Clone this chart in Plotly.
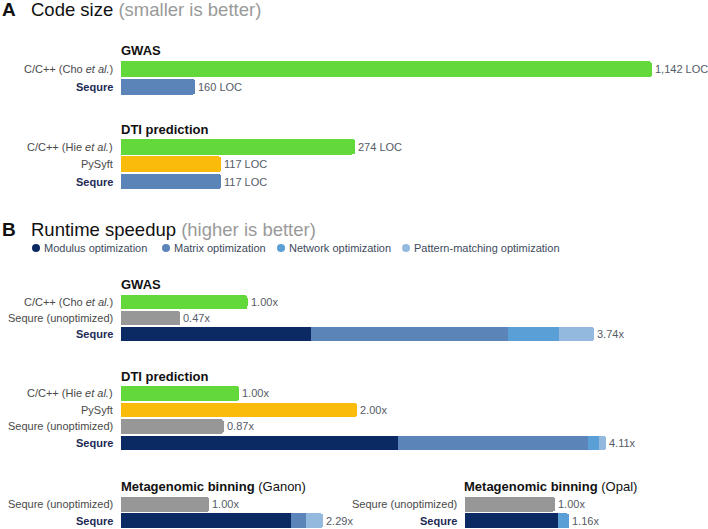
import plotly.graph_objects as go

# ---------------- data ----------------
code_gwas_labels = ["C/C++ (Cho et al.)", "Sequre"]
code_gwas_loc = [1142, 160]
code_dti_labels = ["C/C++ (Hie et al.)", "PySyft", "Sequre"]
code_dti_loc = [274, 117, 117]

opt_names = ["Modulus optimization", "Matrix optimization",
             "Network optimization", "Pattern-matching optimization"]

speed_gwas_labels = ["C/C++ (Cho et al.)", "Sequre (unoptimized)"]
speed_gwas = [1.00, 0.47]
speed_gwas_sequre = [1.50, 1.56, 0.40, 0.28]     # -> 3.74x

speed_dti_labels = ["C/C++ (Hie et al.)", "PySyft", "Sequre (unoptimized)"]
speed_dti = [1.00, 2.00, 0.87]
speed_dti_sequre = [2.35, 1.61, 0.09, 0.06]      # -> 4.11x

ganon_labels = ["Sequre (unoptimized)"]
ganon = [1.00]
ganon_sequre = [1.92, 0.18, 0.00, 0.19]          # -> 2.29x

opal_labels = ["Sequre (unoptimized)"]
opal = [1.00]
opal_sequre = [1.03, 0.00, 0.13, 0.00]           # -> 1.16x

# ---------------- styles ----------------
W, H = 708, 529
FONT = "Liberation Sans"
GREEN, GRAY, YELLOW = "#62d83b", "#979797", "#fbbb0a"
SEQ_BLUE = "#5b84b8"
OPT_COLORS = ["#0b2a63", "#5b84b8", "#5a9fd6", "#94b9de"]
LABEL_C, VALUE_C, NAVY = "#4a4a4a", "#555b66", "#1c2a55"

def pxx(p):
    return p / W

def pxy(p):
    return 1 - p / H

fig = go.Figure()
annotations = []
shapes = []
layout_axes = {}


def disp(lbl):
    if lbl == "Sequre":
        return f"<b><span style='color:{NAVY}'>Sequre</span></b>"
    return lbl.replace("et al.", "<i>et al.</i>")


def add_group(idx, x0, ytop, pitch, scale, cats, values, colors, fmt,
              sequre=None, label_x=None):
    xa, ya = f"x{idx}", f"y{idx}"
    all_cats = list(cats) + (["Sequre"] if sequre is not None else [])
    n = len(all_cats)
    layout_axes[f"xaxis{idx}"] = dict(domain=[pxx(x0), 1], range=[0, (W - x0) / scale],
                                      visible=False, fixedrange=True, anchor=ya)
    layout_axes[f"yaxis{idx}"] = dict(domain=[pxy(ytop + n * pitch), pxy(ytop)],
                                      type="category", categoryorder="array",
                                      categoryarray=all_cats, range=[n - 0.5, -0.5],
                                      visible=False, fixedrange=True, anchor=xa)
    fig.add_trace(go.Bar(x=values, y=list(cats), orientation="h", xaxis=xa, yaxis=ya,
                         marker=dict(color=colors, line=dict(width=0)),
                         hoverinfo="skip", showlegend=False))
    for c, v in zip(cats, values):
        annotations.append(dict(x=v, y=c, xref=xa, yref=ya, text=fmt(v), showarrow=False,
                                xanchor="left", xshift=1, font=dict(size=11, color=VALUE_C)))
    if sequre is not None:
        if isinstance(sequre, list):
            for seg, col in zip(sequre, OPT_COLORS):
                if seg > 0:
                    fig.add_trace(go.Bar(x=[seg], y=["Sequre"], orientation="h",
                                         xaxis=xa, yaxis=ya,
                                         marker=dict(color=col, line=dict(width=0)),
                                         hoverinfo="skip", showlegend=False))
            total = sum(sequre)
        else:
            fig.add_trace(go.Bar(x=[sequre], y=["Sequre"], orientation="h",
                                 xaxis=xa, yaxis=ya,
                                 marker=dict(color=SEQ_BLUE, line=dict(width=0)),
                                 hoverinfo="skip", showlegend=False))
            total = sequre
        annotations.append(dict(x=total, y="Sequre", xref=xa, yref=ya, text=fmt(total),
                                showarrow=False, xanchor="left", xshift=1,
                                font=dict(size=11, color=VALUE_C)))
    lx = (x0 - 6) if label_x is None else label_x
    for c in all_cats:
        annotations.append(dict(x=pxx(lx), y=c, xref="paper", yref=ya, text=disp(c),
                                showarrow=False, xanchor="right",
                                font=dict(size=11, color=LABEL_C)))


loc_fmt = lambda v: f"{v:,} LOC"
x_fmt = lambda v: f"{v:.2f}x"

# Panel A
add_group(1, 121, 60.5, 17.5, 0.465, code_gwas_labels[:1], code_gwas_loc[:1], [GREEN],
          loc_fmt, sequre=code_gwas_loc[1])
add_group(2, 121, 138.0, 17.4, 0.855, code_dti_labels[:2], code_dti_loc[:2], [GREEN, YELLOW],
          loc_fmt, sequre=code_dti_loc[2])
# Panel B
add_group(3, 121, 294.2, 16.0, 126.5, speed_gwas_labels, speed_gwas, [GREEN, GRAY],
          x_fmt, sequre=speed_gwas_sequre)
add_group(4, 121, 385.2, 16.5, 118.0, speed_dti_labels, speed_dti, [GREEN, YELLOW, GRAY],
          x_fmt, sequre=speed_dti_sequre)
add_group(5, 121, 496.2, 16.4, 88.3, ganon_labels, ganon, [GRAY], x_fmt, sequre=ganon_sequre)
add_group(6, 465, 496.2, 16.4, 90.0, opal_labels, opal, [GRAY], x_fmt, sequre=opal_sequre,
          label_x=459)

# group titles
def title(x, y, text):
    annotations.append(dict(x=pxx(x), y=pxy(y), xref="paper", yref="paper", text=text,
                            showarrow=False, xanchor="left", yanchor="middle",
                            font=dict(size=13, color="#111111")))

title(119, 50, "<b>GWAS</b>")
title(119, 129, "<b>DTI prediction</b>")
title(119, 284, "<b>GWAS</b>")
title(119, 376, "<b>DTI prediction</b>")
title(119, 486, "<b>Metagenomic binning</b> (Ganon)")
title(462, 486, "<b>Metagenomic binning</b> (Opal)")

# panel titles
for letter, y, main, sub in [("A", 10, "Code size", "(smaller is better)"),
                             ("B", 230, "Runtime speedup", "(higher is better)")]:
    annotations.append(dict(x=0, y=pxy(y), xref="paper", yref="paper", text=f"<b>{letter}</b>",
                            showarrow=False, xanchor="left", yanchor="middle",
                            font=dict(size=19, color="#111111")))
    annotations.append(dict(x=pxx(29), y=pxy(y), xref="paper", yref="paper",
                            text=f"{main} <span style='color:#9a9a9a'>{sub}</span>",
                            showarrow=False, xanchor="left", yanchor="middle",
                            font=dict(size=18.5, color="#111111")))

# legend (dots + text)
dot_x = [36, 166, 281, 406]
for name, col, dx in zip(opt_names, OPT_COLORS, dot_x):
    shapes.append(dict(type="circle", xref="paper", yref="paper", xsizemode="pixel",
                       ysizemode="pixel", xanchor=pxx(dx), yanchor=pxy(248),
                       x0=-4, x1=4, y0=-4, y1=4, fillcolor=col, line=dict(width=0)))
    annotations.append(dict(x=pxx(dx + 6), y=pxy(248), xref="paper", yref="paper", text=name,
                            showarrow=False, xanchor="left", yanchor="middle",
                            font=dict(size=11, color="#3d4a5c")))

fig.update_layout(
    width=W, height=H, margin=dict(l=0, r=0, t=0, b=0),
    paper_bgcolor="white", plot_bgcolor="white",
    barmode="stack", bargap=0.1, barcornerradius=3,
    font=dict(family=FONT, size=11),
    annotations=annotations, shapes=shapes,
    **layout_axes,
)

fig.write_html("out.html", config={"displayModeBar": False},
               post_script="document.body.style.margin='0';document.body.style.overflow='hidden';")
